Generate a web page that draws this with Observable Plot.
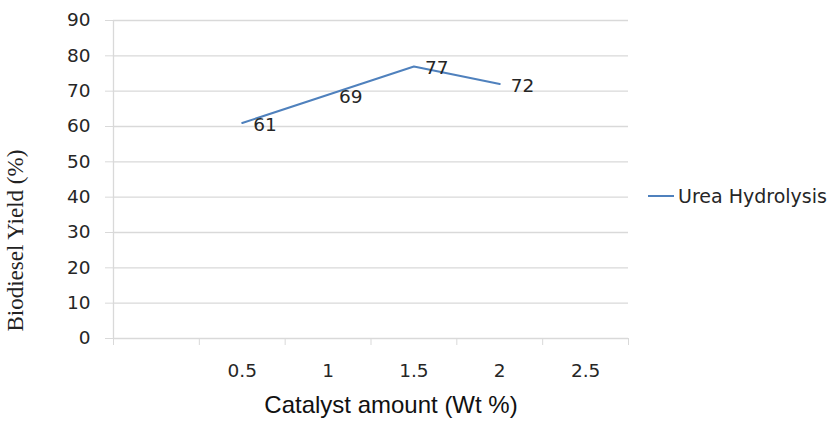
<!DOCTYPE html>
<html><head><meta charset="utf-8">
<script src="https://cdn.jsdelivr.net/npm/d3@7"></script>
<script src="https://cdn.jsdelivr.net/npm/@observablehq/plot@0.6"></script>
<style>
body{margin:0;background:#fff;}
#wrap{position:relative;width:830px;height:423px;overflow:hidden;}
#legend{position:absolute;left:648px;top:185px;display:flex;align-items:center;font-family:"DejaVu Sans";font-size:19px;color:#262626;white-space:nowrap;}
#legend .sw{display:inline-block;width:26px;height:2px;background:#4F81BD;margin-right:4px;}
</style></head><body><div id="wrap"></div>
<script>
const catalyst = [0.5, 1, 1.5, 2];
const yieldPct = [61, 69, 77, 72];
const xCategories = [0, 0.5, 1, 1.5, 2, 2.5]; // first category slot is blank in the original
const xTickLabels = [0.5, 1, 1.5, 2, 2.5];
const yTicks = [0, 10, 20, 30, 40, 50, 60, 70, 80, 90];
const seriesName = "Urea Hydrolysis";
const xTitle = "Catalyst amount (Wt %)";
const yTitle = "Biodiesel Yield (%)";

const data = catalyst.map((c, i) => ({c, y: yieldPct[i]}));
const step = 0.5;
const boundaries = [...xCategories.map(c => c - step / 2), xCategories[xCategories.length - 1] + step / 2];
const grid = "#d9d9d9";
const ink = "#262626";

const chart = Plot.plot({
  width: 830, height: 423,
  marginLeft: 113, marginRight: 202, marginTop: 20, marginBottom: 85,
  style: {fontFamily: "DejaVu Sans", fontSize: "18.5px", color: ink, background: "#fff", overflow: "visible"},
  x: {type: "linear", domain: [boundaries[0], boundaries[boundaries.length - 1]]},
  y: {domain: [0, 90]},
  marks: [
    Plot.ruleY(yTicks, {stroke: grid, strokeWidth: 1.3}),
    Plot.axisY({ticks: yTicks, tickSize: 8, tickPadding: 15, stroke: grid, fill: ink, label: null}),
    Plot.ruleX([boundaries[0]], {stroke: grid, strokeWidth: 1.3}),
    Plot.axisX({ticks: boundaries, tickFormat: () => "", tickSize: 7, stroke: grid, label: null}),
    Plot.axisX({ticks: xTickLabels, tickSize: 0, tickPadding: 25, tickFormat: d => String(d), fill: ink, label: null}),
    Plot.line(data, {x: "c", y: "y", stroke: "#4F81BD", strokeWidth: 2}),
    Plot.text(data, {x: "c", y: "y", text: d => String(d.y), textAnchor: "start", dx: 11, dy: 2, fill: ink, fontSize: 18.5}),
    Plot.text([yTitle], {frameAnchor: "bottom-left", rotate: -90, textAnchor: "start", dx: -91, dy: -7, fill: "#222", fontFamily: "Liberation Serif", fontWeight: "normal", fontSize: 23}),
    Plot.text([xTitle], {frameAnchor: "bottom", dx: 20, dy: 74, fill: "#111", fontFamily: "Liberation Sans", fontSize: 24})
  ]
});
const wrap = document.getElementById("wrap");
wrap.appendChild(chart);
const legend = document.createElement("div");
legend.id = "legend";
legend.innerHTML = `<span class="sw"></span><span></span>`;
legend.lastChild.textContent = seriesName;
wrap.appendChild(legend);
</script>
</body></html>
